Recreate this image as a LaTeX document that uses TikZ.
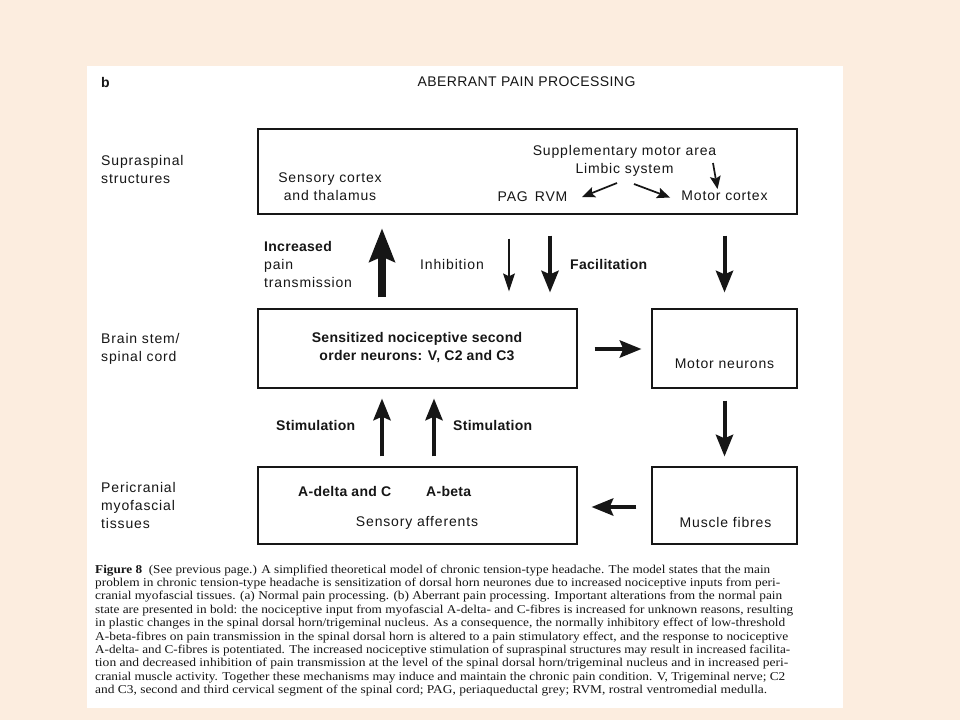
\documentclass[tikz,border=0pt]{standalone}
\usepackage{fontspec}
\usepackage{graphicx}
\usetikzlibrary{arrows.meta}
\setmainfont{Liberation Serif}
\newfontfamily\labfont[LetterSpace=6,BoldFeatures={LetterSpace=2}]{Liberation Sans}
\newfontfamily\titlefont[LetterSpace=3]{Liberation Sans}
\definecolor{peach}{RGB}{252,237,223}
\definecolor{ink}{RGB}{22,22,22}
\newsavebox\capbox
\newcommand\capline[2]{\sbox\capbox{#2}\resizebox{#1}{\ht\capbox}{\usebox\capbox}}
\begin{document}
\begin{tikzpicture}[x=1pt,y=-1pt,
  box/.style={draw=ink,line width=1.4pt,inner sep=0pt},
  lab/.style={font=\labfont\fontsize{14}{18}\selectfont,text=ink,inner sep=0pt},
  labb/.style={font=\labfont\bfseries\fontsize{14}{18}\selectfont,text=ink,inner sep=0pt},
  captext/.style={font=\fontsize{12}{14}\selectfont,text=ink,inner sep=0pt,anchor=base west},
  smallarr/.style={draw=ink,line width=1.7pt,-{Stealth[length=13pt,width=11pt,inset=2.5pt,line width=0pt]}},
  bigarr/.style={draw=ink,line width=8pt,-{Stealth[length=34pt,width=27pt,inset=6pt,line width=0pt]}},
  thinarr/.style={draw=ink,line width=2pt,-{Stealth[length=18pt,width=12pt,inset=3pt,line width=0pt]}},
  medarr/.style={draw=ink,line width=4.5pt,-{Stealth[length=22pt,width=18pt,inset=4pt,line width=0pt]}}]
\useasboundingbox (0,0) rectangle (960,720);
\fill[peach] (0,0) rectangle (960,720);
\fill[white] (87,66) rectangle (843,708);

% header
\node[labb,anchor=west] (b) at (101,82) {b};
\node[lab,font=\titlefont\fontsize{14}{18}\selectfont] (title) at (526.5,82) {ABERRANT PAIN PROCESSING};

% boxes
\node[box,minimum width=539pt,minimum height=85pt] (supra) at (527.5,171.5) {};
\node[box,minimum width=319pt,minimum height=79pt] (mid) at (417.5,348.5) {};
\node[box,minimum width=145pt,minimum height=79pt] (motn) at (724.5,348.5) {};
\node[box,minimum width=319pt,minimum height=77pt] (aff) at (417.5,505.5) {};
\node[box,minimum width=145pt,minimum height=77pt] (musc) at (724.5,505.5) {};

% row labels
\node[lab,anchor=west,align=left] (r1) at (101,169) {Supraspinal\\structures};
\node[lab,anchor=west,align=left] (r2) at (101,349) {Brain stem/\\spinal cord};
\node[lab,anchor=west,align=left] (r3) at (101,505) {Pericranial\\myofascial\\tissues};

% top box contents
\node[lab,align=center] (senscort) at (330,187) {Sensory cortex\\and thalamus};
\node[lab] (sma) at (624.5,152) {Supplementary motor area};
\node[lab] (limbic) at (624.5,170) {Limbic system};
\node[lab] (pagrvm) at (532.5,197) {PAG\enspace RVM};
\node[lab] (motcort) at (724.5,196) {Motor cortex};
\coordinate (l1s) at (617,183); \coordinate (l1e) at (582,197);
\coordinate (l2s) at (634,184); \coordinate (l2e) at (670,197.5);
\coordinate (l3s) at (713,163); \coordinate (l3e) at (717.5,189);
\draw[smallarr] (l1s) -- (l1e);
\draw[smallarr] (l2s) -- (l2e);
\draw[smallarr] (l3s) -- (l3e);

% middle labels
\node[lab,anchor=west,align=left] (incr) at (264,264.5) {\textbf{Increased}\\pain\\transmission};
\node[lab] (inhib) at (452,264) {Inhibition};
\node[labb,anchor=west] (facil) at (570,264) {Facilitation};
\node[labb,align=center] (sens) at (417,348) {Sensitized nociceptive second\\order neurons: V, C2 and C3};
\node[lab] (motnt) at (724.5,364) {Motor neurons};
\node[labb,anchor=west] (stim1) at (276,425) {Stimulation};
\node[labb,anchor=west] (stim2) at (453,425) {Stimulation};
\node[labb,anchor=west] (adelta) at (298,491) {A-delta and C};
\node[labb,anchor=west] (abeta) at (426,491) {A-beta};
\node[lab] (afft) at (417,523) {Sensory afferents};
\node[lab] (musct) at (725.5,522) {Muscle fibres};

% arrow columns
\coordinate (xa) at (382,0);
\coordinate (xb) at (509,0);
\coordinate (xc) at (550,0);
\coordinate (xm) at (724.5,0);
\coordinate (xs) at (434,0);
\coordinate (yr) at (0,349);
\coordinate (yl) at (0,507);

\draw[bigarr,shorten <=11pt,shorten >=14pt] (mid.north -| xa) -- (supra.south -| xa);
\draw[thinarr,shorten <=24pt,shorten >=17pt] (supra.south -| xb) -- (mid.north -| xb);
\draw[medarr,shorten <=21pt,shorten >=16pt] (supra.south -| xc) -- (mid.north -| xc);
\draw[medarr,line width=4pt,shorten <=21pt,shorten >=16pt] (supra.south -| xm) -- (motn.north -| xm);
\draw[medarr,shorten <=17pt,shorten >=10pt] (mid.east |- yr) -- (motn.west |- yr);
\draw[medarr,line width=4pt,shorten <=12pt,shorten >=10pt] (motn.south -| xm) -- (musc.north -| xm);
\draw[medarr,shorten <=10pt,shorten >=10pt] (aff.north -| xa) -- (mid.south -| xa);
\draw[medarr,shorten <=10pt,shorten >=10pt] (aff.north -| xs) -- (mid.south -| xs);
\draw[medarr,shorten <=15pt,shorten >=14pt] (musc.west |- yl) -- (aff.east |- yl);

% caption
\node[captext] (c1) at (95,573) {\capline{675pt}{\textbf{Figure 8}\enspace (See previous page.) A simplified theoretical model of chronic tension-type headache. The model states that the main}};
\node[captext] (c2) at (95,586.4) {\capline{685pt}{problem in chronic tension-type headache is sensitization of dorsal horn neurones due to increased nociceptive inputs from peri-}};
\node[captext] (c3) at (95,599.8) {\capline{687pt}{cranial myofascial tissues. (a) Normal pain processing. (b) Aberrant pain processing. Important alterations from the normal pain}};
\node[captext] (c4) at (95,613.2) {\capline{698pt}{state are presented in bold: the nociceptive input from myofascial A-delta- and C-fibres is increased for unknown reasons, resulting}};
\node[captext] (c5) at (95,626.6) {\capline{690pt}{in plastic changes in the spinal dorsal horn/trigeminal nucleus. As a consequence, the normally inhibitory effect of low-threshold}};
\node[captext] (c6) at (95,640) {\capline{693pt}{A-beta-fibres on pain transmission in the spinal dorsal horn is altered to a pain stimulatory effect, and the response to nociceptive}};
\node[captext] (c7) at (95,653.4) {\capline{695pt}{A-delta- and C-fibres is potentiated. The increased nociceptive stimulation of supraspinal structures may result in increased facilita-}};
\node[captext] (c8) at (95,666.8) {\capline{693pt}{tion and decreased inhibition of pain transmission at the level of the spinal dorsal horn/trigeminal nucleus and in increased peri-}};
\node[captext] (c9) at (95,680.2) {\capline{690pt}{cranial muscle activity. Together these mechanisms may induce and maintain the chronic pain condition. V, Trigeminal nerve; C2}};
\node[captext] (c10) at (95,693.6) {\capline{672pt}{and C3, second and third cervical segment of the spinal cord; PAG, periaqueductal grey; RVM, rostral ventromedial medulla.}};
\end{tikzpicture}
\end{document}
